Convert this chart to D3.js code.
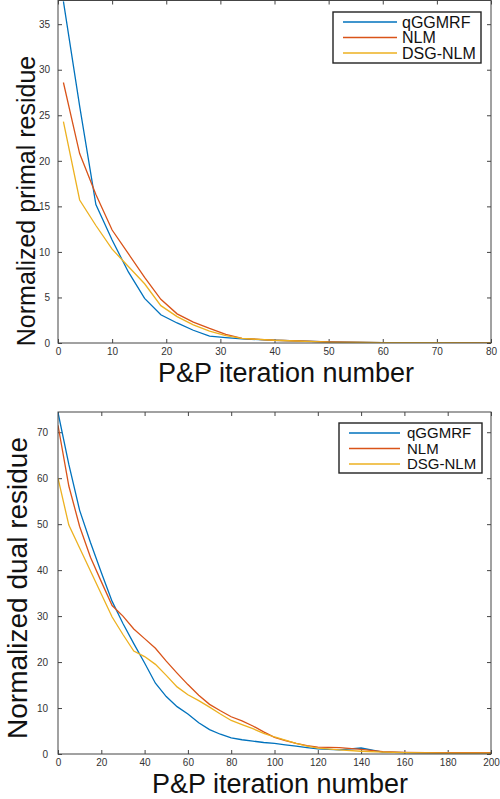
<!DOCTYPE html>
<meta charset="utf-8">
<html>
<head>
  <title>Residues</title>
  <style type="text/css">
    body{margin:0; background:#fff;}
    svg{display:block;}
    text{font-family:"Liberation Sans", Arial, Helvetica, sans-serif;}
  </style>
</head>
<body>
  <script src="https://cdn.jsdelivr.net/npm/d3@7"></script>
  <script>
    var seriesNames = ['qGGMRF', 'NLM', 'DSG-NLM'];
    var colors = ['#0072bd', '#d95319', '#edb120'];

    // primal residue vs P&P iteration
    var primalIter = [1, 4, 7, 10, 13, 16, 19, 22, 25, 28, 31, 34, 40, 50, 60, 70, 80];
    var primalQggmrf = [37.5, 26.0, 15.2, 11.3, 7.8, 4.9, 3.1, 2.2, 1.4, 0.75, 0.6, 0.45, 0.3, 0.12, 0.05, 0.03, 0.02];
    var primalNlm = [28.6, 20.8, 16.3, 12.4, 9.8, 7.2, 4.8, 3.2, 2.3, 1.6, 0.95, 0.5, 0.3, 0.12, 0.05, 0.03, 0.02];
    var primalDsg = [24.3, 15.7, 12.9, 10.3, 8.4, 6.5, 4.1, 2.9, 2.0, 1.3, 0.8, 0.5, 0.3, 0.1, 0.05, 0.03, 0.02];
    var primalXTicks = [0, 10, 20, 30, 40, 50, 60, 70, 80];
    var primalYTicks = [0, 5, 10, 15, 20, 25, 30, 35];

    // dual residue vs P&P iteration
    var dualIter = [0, 5, 10, 15, 20, 25, 30, 35, 40, 45, 50, 55, 60, 65, 70, 75, 80, 85, 90, 95, 100, 105, 110, 115, 120, 130, 140, 150, 160, 170, 180, 190, 200];
    var dualQggmrf = [74.3, 63, 53, 46, 39.5, 33.2, 28.4, 24, 19.8, 15.4, 12.5, 10.3, 8.7, 6.8, 5.3, 4.3, 3.5, 3.1, 2.8, 2.5, 2.3, 2.0, 1.7, 1.4, 1.1, 0.9, 1.3, 0.4, 0.3, 0.25, 0.2, 0.2, 0.2];
    var dualNlm = [71.5, 58.3, 49.5, 42.8, 37.5, 32.3, 30.0, 27.2, 25.1, 23.0, 20.2, 17.6, 15.1, 12.8, 10.8, 9.4, 8.1, 7.2, 6.1, 4.8, 3.6, 2.9, 2.3, 1.8, 1.5, 1.4, 1.0, 0.5, 0.35, 0.3, 0.3, 0.3, 0.3];
    var dualDsg = [60, 49.8, 44.8, 39.8, 34.8, 29.8, 26.0, 22.4, 21.2, 19.5, 17.1, 14.6, 12.9, 11.6, 10.2, 8.7, 7.3, 6.4, 5.5, 4.5, 3.7, 3.0, 2.3, 1.7, 1.3, 0.9, 0.6, 0.4, 0.3, 0.25, 0.2, 0.2, 0.2];
    var dualXTicks = [0, 20, 40, 60, 80, 100, 120, 140, 160, 180, 200];
    var dualYTicks = [0, 10, 20, 30, 40, 50, 60, 70];

    var width = 500,
        height = 799;

    var svg = d3.select('body')
        .append('svg')
        .attr('width', width)
        .attr('height', height);

    function panel(opts){
      var x = d3.scaleLinear().domain(opts.xDomain).range([opts.left, opts.right]);
      var y = d3.scaleLinear().domain(opts.yDomain).range([opts.bottom, opts.top]);
      var g = svg.append('g');

      g.append('clipPath').attr('id', opts.id)
        .append('rect')
        .attr('x', opts.left).attr('y', opts.top)
        .attr('width', opts.right - opts.left)
        .attr('height', opts.bottom - opts.top);

      var tickLen = 4;
      var axes = [
        d3.axisBottom(x).tickValues(opts.xTicks).tickSize(-tickLen).tickSizeOuter(0).tickPadding(5),
        d3.axisLeft(y).tickValues(opts.yTicks).tickSize(-tickLen).tickSizeOuter(0).tickPadding(opts.yPad),
        d3.axisTop(x).tickValues(opts.xTicks).tickSize(-tickLen).tickSizeOuter(0).tickFormat(''),
        d3.axisRight(y).tickValues(opts.yTicks).tickSize(-tickLen).tickSizeOuter(0).tickFormat('')
      ];
      var shifts = [[0, opts.bottom], [opts.left, 0], [0, opts.top], [opts.right, 0]];

      axes.forEach(function(a, i){
        var ag = g.append('g')
          .attr('transform', 'translate(' + shifts[i][0] + ',' + shifts[i][1] + ')')
          .call(a);
        ag.select('.domain').remove();
        ag.selectAll('line').attr('stroke', '#444');
        ag.selectAll('text')
          .style('font-family', '"Liberation Sans", Arial, sans-serif')
          .attr('font-size', 10)
          .attr('fill', '#333');
      });

      var line = d3.line()
        .x(function(d){return x(d[0])})
        .y(function(d){return y(d[1])});

      opts.series.forEach(function(vals, i){
        g.append('path')
          .datum(opts.xs.map(function(v, j){return [v, vals[j]]}))
          .attr('clip-path', 'url(#' + opts.id + ')')
          .attr('fill', 'none')
          .attr('stroke', colors[i])
          .attr('stroke-width', 1.3)
          .attr('d', line);
      });

      g.append('rect')
        .attr('x', opts.left).attr('y', opts.top)
        .attr('width', opts.right - opts.left)
        .attr('height', opts.bottom - opts.top)
        .attr('fill', 'none')
        .attr('stroke', '#444')
        .attr('stroke-width', 1);

      // axis titles
      g.append('text')
        .attr('x', opts.xLabelX).attr('y', opts.xLabelY)
        .attr('text-anchor', 'middle')
        .attr('font-size', 27)
        .attr('fill', '#111')
        .text('P&P iteration number');

      g.append('text')
        .attr('transform', 'translate(' + opts.yLabelX + ',' + opts.yLabelY + ') rotate(-90)')
        .attr('text-anchor', 'middle')
        .attr('font-size', opts.yLabelSize)
        .attr('fill', '#111')
        .text(opts.yLabel);

      // legend
      var lg = opts.legend;
      g.append('rect')
        .attr('x', lg.x).attr('y', lg.y)
        .attr('width', lg.w).attr('height', lg.h)
        .attr('fill', '#fff')
        .attr('stroke', '#222')
        .attr('stroke-width', 1.4);

      seriesNames.forEach(function(name, i){
        var cy = lg.y + lg.row0 + i * lg.step;
        g.append('line')
          .attr('x1', lg.x + lg.lineX0).attr('x2', lg.x + lg.lineX1)
          .attr('y1', cy).attr('y2', cy)
          .attr('stroke', colors[i])
          .attr('stroke-width', 1.6);
        g.append('text')
          .attr('x', lg.x + lg.textX).attr('y', cy)
          .attr('dy', '0.36em')
          .attr('font-size', lg.size)
          .attr('fill', '#111')
          .text(name);
      });
    }

    panel({
      id: 'clipPrimal',
      left: 58, right: 491, top: 0.5, bottom: 343,
      xDomain: [0, 80], yDomain: [0, 37.6],
      xTicks: primalXTicks, yTicks: primalYTicks, yPad: 8,
      xs: primalIter,
      series: [primalQggmrf, primalNlm, primalDsg],
      xLabelX: 286, xLabelY: 382,
      yLabel: 'Normalized primal residue', yLabelX: 35, yLabelY: 201, yLabelSize: 25,
      legend: {x: 333, y: 12, w: 148, h: 51, row0: 10, step: 15.5, lineX0: 10, lineX1: 64, textX: 69, size: 16}
    });

    panel({
      id: 'clipDual',
      left: 58, right: 491, top: 412, bottom: 754,
      xDomain: [0, 200], yDomain: [0, 74.4],
      xTicks: dualXTicks, yTicks: dualYTicks, yPad: 10,
      xs: dualIter,
      series: [dualQggmrf, dualNlm, dualDsg],
      xLabelX: 280, xLabelY: 793,
      yLabel: 'Normalized dual residue', yLabelX: 27, yLabelY: 588, yLabelSize: 28,
      legend: {x: 339, y: 423, w: 143, h: 50, row0: 10, step: 15.5, lineX0: 10, lineX1: 61, textX: 68, size: 15}
    });
  </script>
</body>
</html>
